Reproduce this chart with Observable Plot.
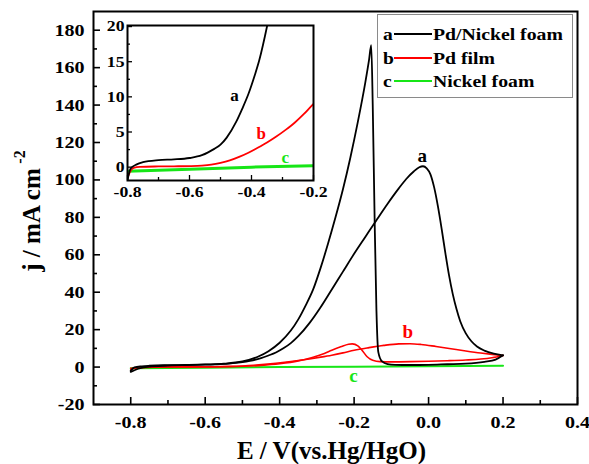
<!DOCTYPE html>
<html><head><meta charset="utf-8">
<script src="https://cdn.jsdelivr.net/npm/d3@7"></script>
<script src="https://cdn.jsdelivr.net/npm/@observablehq/plot@0.6"></script>
<style>
body{margin:0;background:#fff;}
#wrap{position:relative;width:589px;height:464px;overflow:hidden;font-family:"Liberation Serif",serif;font-weight:bold;}
#wrap svg{position:absolute;}
#legend{position:absolute;left:377px;top:14px;width:196px;height:84px;border:1.5px solid #8a8a8a;background:#fff;box-sizing:border-box;}
.row{position:absolute;left:0;height:22px;display:flex;align-items:center;font-size:17px;line-height:1;color:#000;white-space:nowrap;}
.row .ltr{width:11px;margin-left:5px;display:inline-block;transform:scaleX(1.15);transform-origin:left center;}
.row .sw{width:38px;height:0;border-top:2px solid #000;margin-right:1px;}
.row .nm{display:inline-block;transform:scaleX(1.16);transform-origin:left center;}
</style></head><body><div id="wrap"></div>
<script>
// ---- data (E in V vs Hg/HgO, j in mA cm^-2) ----
const seriesNames = ["Pd/Nickel foam", "Pd film", "Nickel foam"];
const seriesLetters = ["a", "b", "c"];
const seriesColors = ["#000000", "#ff0000", "#17e617"];

// curve a: Pd/Nickel foam, forward (anodic) scan
const aForward = [[-0.80,-1.9],[-0.79,-0.2],[-0.77,0.4],[-0.75,0.7],[-0.70,1.0],[-0.65,1.1],[-0.60,1.3],[-0.56,1.6],[-0.53,2.0],[-0.50,2.6],[-0.48,3.3],[-0.45,4.8],[-0.43,6.2],[-0.41,7.8],[-0.39,10],[-0.37,12.8],[-0.35,16.5],[-0.32,23.5],[-0.29,32],[-0.26,41.5],[-0.23,51],[-0.20,60.5],[-0.17,69.5],[-0.14,78.5],[-0.11,87.3],[-0.08,95.5],[-0.06,100.5],[-0.04,104.5],[-0.025,106.8],[-0.015,107.3],[-0.005,106.2],[0.005,103],[0.015,96],[0.025,86],[0.035,74],[0.045,61],[0.055,49],[0.065,39],[0.075,31],[0.085,24.5],[0.10,18],[0.115,13.8],[0.13,11],[0.15,8.8],[0.175,7.2],[0.20,6.3]];
// curve a: reverse (cathodic) scan
const aReverse = [[0.20,6.3],[0.18,4.0],[0.15,2.8],[0.10,1.8],[0.05,1.5],[0.00,1.2],[-0.05,1.1],[-0.09,1.2],[-0.11,1.6],[-0.125,3],[-0.135,8],[-0.14,30],[-0.145,80],[-0.15,140],[-0.154,172],[-0.16,164],[-0.17,152],[-0.19,131],[-0.21,112],[-0.23,95],[-0.25,80],[-0.27,66],[-0.29,53],[-0.31,41.5],[-0.33,33],[-0.35,25.5],[-0.37,19.5],[-0.40,13],[-0.43,8.5],[-0.46,5.4],[-0.50,3.0],[-0.55,1.8],[-0.60,1.4],[-0.70,0.8],[-0.75,0.3],[-0.78,-0.9],[-0.80,-2.6]];
// curve a in the inset (low-current onset region)
const aInset = [[-0.80,-1.9],[-0.79,-0.2],[-0.77,0.4],[-0.75,0.7],[-0.70,1.0],[-0.65,1.1],[-0.60,1.3],[-0.56,1.7],[-0.54,2.1],[-0.52,2.6],[-0.50,3.2],[-0.48,4.2],[-0.45,6.4],[-0.43,8.3],[-0.41,10.4],[-0.39,13.0],[-0.375,15.2],[-0.35,20],[-0.33,24.5]];
// curve b: Pd film, forward scan
const bForward = [[-0.80,-1.5],[-0.79,-0.5],[-0.78,-0.1],[-0.76,0.05],[-0.70,0.1],[-0.65,0.12],[-0.60,0.15],[-0.56,0.22],[-0.53,0.35],[-0.50,0.6],[-0.47,0.95],[-0.44,1.45],[-0.41,2.05],[-0.38,2.75],[-0.35,3.5],[-0.32,4.35],[-0.29,5.3],[-0.26,6.35],[-0.23,7.6],[-0.20,9.0],[-0.16,10.4],[-0.12,11.6],[-0.08,12.4],[-0.05,12.5],[-0.02,12.1],[0.02,11.0],[0.06,9.8],[0.10,8.6],[0.14,7.5],[0.17,6.8],[0.20,6.2]];
// curve b: reverse scan
const bReverse = [[0.20,6.2],[0.17,5.0],[0.14,4.3],[0.10,3.8],[0.05,3.4],[0.00,3.1],[-0.05,2.9],[-0.10,2.8],[-0.13,2.9],[-0.15,3.6],[-0.165,5.5],[-0.18,9.3],[-0.19,11.3],[-0.205,12.4],[-0.215,12.2],[-0.236,10.8],[-0.26,9.0],[-0.28,7.3],[-0.31,5.3],[-0.35,3.3],[-0.40,1.8],[-0.45,0.9],[-0.50,0.4],[-0.60,0.1],[-0.70,0.0],[-0.80,-0.6]];
// curve c: Nickel foam
const cScan = [[-0.80,-0.6],[-0.60,-0.3],[-0.40,0.0],[-0.20,0.2],[0.00,0.45],[0.20,0.7]];

// axes
const xMajor = [-0.8,-0.6,-0.4,-0.2,0.0,0.2,0.4];
const xMinor = [-0.7,-0.5,-0.3,-0.1,0.1,0.3];
const yMajor = [-20,0,20,40,60,80,100,120,140,160,180];
const yMinor = [-10,10,30,50,70,90,110,130,150,170];
const insetXMajor = [-0.8,-0.6,-0.4,-0.2];
const insetXMinor = [-0.7,-0.5,-0.3];
const insetYMajor = [0,5,10,15,20];
const insetYMinor = [2.5,7.5,12.5,17.5];

// curve annotations (data units)
const mainLabels = [{E:-0.017,j:113,t:"a",c:0},{E:-0.056,j:18.7,t:"b",c:1},{E:-0.202,j:-4.8,t:"c",c:2}];
const insetLabels = [{E:-0.455,j:10.2,t:"a",c:0},{E:-0.369,j:4.8,t:"b",c:1},{E:-0.291,j:1.4,t:"c",c:2}];

const xTitle = "E / V(vs.Hg/HgO)";
const yTitle = "j / mA cm";
const yTitleSup = "-2";

// points sorted by potential so a monotone-x curve can be used
const toObj = arr => arr.map(([E, j]) => ({E, j})).sort((p, q) => p.E - q.E);
const FONT = "Liberation Serif";
const curve = "monotone-x";

// ---- main plot ----
const W = 589, H = 464, mL = 93, mR = 12, mT = 11, mB = 60;
const innerW = W - mL - mR, innerH = H - mT - mB;

const main = Plot.plot({
  width: W, height: H,
  marginLeft: mL, marginRight: mR, marginTop: mT, marginBottom: mB,
  x: {domain: [-0.9, 0.4]},
  y: {domain: [-20, 190]},
  style: {fontFamily: FONT, fontWeight: "bold", background: "transparent", color: "black", overflow: "visible"},
  marks: [
    Plot.tickX(xMajor, {x: d => d, insetTop: innerH - 7, stroke: "black", strokeWidth: 1.6}),
    Plot.tickX(xMinor, {x: d => d, insetTop: innerH - 4, stroke: "black", strokeWidth: 1.6}),
    Plot.tickY(yMajor, {y: d => d, insetRight: innerW - 7, stroke: "black", strokeWidth: 1.6}),
    Plot.tickY(yMinor, {y: d => d, insetRight: innerW - 4, stroke: "black", strokeWidth: 1.6}),
    Plot.axisX(xMajor, {tickSize: 0, tickPadding: 11, fontSize: 17, fontWeight: "bold", tickFormat: d => d.toFixed(1), label: null}),
    Plot.axisY(yMajor, {tickSize: 0, tickPadding: 9, fontSize: 17, fontWeight: "bold", tickFormat: d => String(d), label: null}),
    Plot.line(toObj(cScan), {x: "E", y: "j", stroke: seriesColors[2], strokeWidth: 2}),
    Plot.line(toObj(bForward), {x: "E", y: "j", stroke: seriesColors[1], strokeWidth: 1.6, curve}),
    Plot.line(toObj(bReverse), {x: "E", y: "j", stroke: seriesColors[1], strokeWidth: 1.6, curve}),
    Plot.line(toObj(aForward), {x: "E", y: "j", stroke: seriesColors[0], strokeWidth: 1.8, curve}),
    Plot.line(toObj(aReverse), {x: "E", y: "j", stroke: seriesColors[0], strokeWidth: 1.8, curve}),
    Plot.text(mainLabels, {x: "E", y: "j", text: "t", fill: d => seriesColors[d.c], fontSize: 19, fontWeight: "bold"}),
    Plot.frame({stroke: "black", strokeWidth: 2}),
    Plot.text([xTitle], {frameAnchor: "bottom", textAnchor: "middle", lineAnchor: "middle", dx: -4, dy: 46, fontSize: 25, fontWeight: "bold"}),
    Plot.text([yTitle], {frameAnchor: "left", textAnchor: "middle", lineAnchor: "middle", rotate: -90, dx: -62, dy: 12, fontSize: 25, fontWeight: "bold"}),
    Plot.text([yTitleSup], {frameAnchor: "left", textAnchor: "middle", lineAnchor: "middle", rotate: -90, dx: -74, dy: -51, fontSize: 16, fontWeight: "bold"})
  ]
});
main.style.left = "0px"; main.style.top = "0px";

// ---- inset plot ----
const IW = 230, IH = 200, iL = 27, iR = 17, iT = 10, iB = 35;
const iInnerW = IW - iL - iR, iInnerH = IH - iT - iB;
const inset = Plot.plot({
  width: IW, height: IH,
  marginLeft: iL, marginRight: iR, marginTop: iT, marginBottom: iB,
  x: {domain: [-0.8, -0.2]},
  y: {domain: [-1.9, 20.15]},
  style: {fontFamily: FONT, fontWeight: "bold", background: "transparent", color: "black", overflow: "visible"},
  marks: [
    Plot.frame({fill: "white"}),
    Plot.line(toObj(cScan), {x: "E", y: "j", stroke: seriesColors[2], strokeWidth: 3, clip: true}),
    Plot.line(toObj(bForward), {x: "E", y: "j", stroke: seriesColors[1], strokeWidth: 1.8, curve, clip: true}),
    Plot.line(toObj(aInset), {x: "E", y: "j", stroke: seriesColors[0], strokeWidth: 1.8, curve, clip: true}),
    Plot.tickX(insetXMajor, {x: d => d, insetTop: iInnerH - 5, stroke: "black", strokeWidth: 1.3}),
    Plot.tickX(insetXMinor, {x: d => d, insetTop: iInnerH - 3, stroke: "black", strokeWidth: 1.3}),
    Plot.tickY(insetYMajor, {y: d => d, insetRight: iInnerW - 5, stroke: "black", strokeWidth: 1.3}),
    Plot.tickY(insetYMinor, {y: d => d, insetRight: iInnerW - 3, stroke: "black", strokeWidth: 1.3}),
    Plot.axisX(insetXMajor, {tickSize: 0, tickPadding: 6, fontSize: 15, fontWeight: "bold", tickFormat: d => d.toFixed(1), label: null}),
    Plot.axisY(insetYMajor, {tickSize: 0, tickPadding: 3, fontSize: 15, fontWeight: "bold", tickFormat: d => String(d), label: null}),
    Plot.text(insetLabels, {x: "E", y: "j", text: "t", fill: d => seriesColors[d.c], fontSize: 17, fontWeight: "bold"}),
    Plot.frame({stroke: "black", strokeWidth: 2})
  ]
});
inset.style.left = "100px"; inset.style.top = "15px";

// widen the tick labels horizontally, as in the reference
function widenTickLabels(svg, s) {
  svg.querySelectorAll('g[aria-label$="tick label"] text').forEach(t => {
    const tr = t.getAttribute("transform") || "";
    t.setAttribute("transform", tr + ` scale(${s},1)`);
  });
}
widenTickLabels(main, 1.18);
widenTickLabels(inset, 1.18);

const wrap = document.getElementById("wrap");
wrap.appendChild(main);
wrap.appendChild(inset);

// ---- legend ----
const legend = document.createElement("div");
legend.id = "legend";
const rowTops = [8, 32, 55];
seriesNames.forEach((name, i) => {
  const row = document.createElement("div");
  row.className = "row";
  row.style.top = rowTops[i] + "px";
  const l = document.createElement("span"); l.className = "ltr"; l.textContent = seriesLetters[i];
  const sw = document.createElement("span"); sw.className = "sw"; sw.style.borderTopColor = seriesColors[i];
  const t = document.createElement("span"); t.className = "nm"; t.textContent = name;
  row.append(l, sw, t);
  legend.appendChild(row);
});
wrap.appendChild(legend);
</script></body></html>
